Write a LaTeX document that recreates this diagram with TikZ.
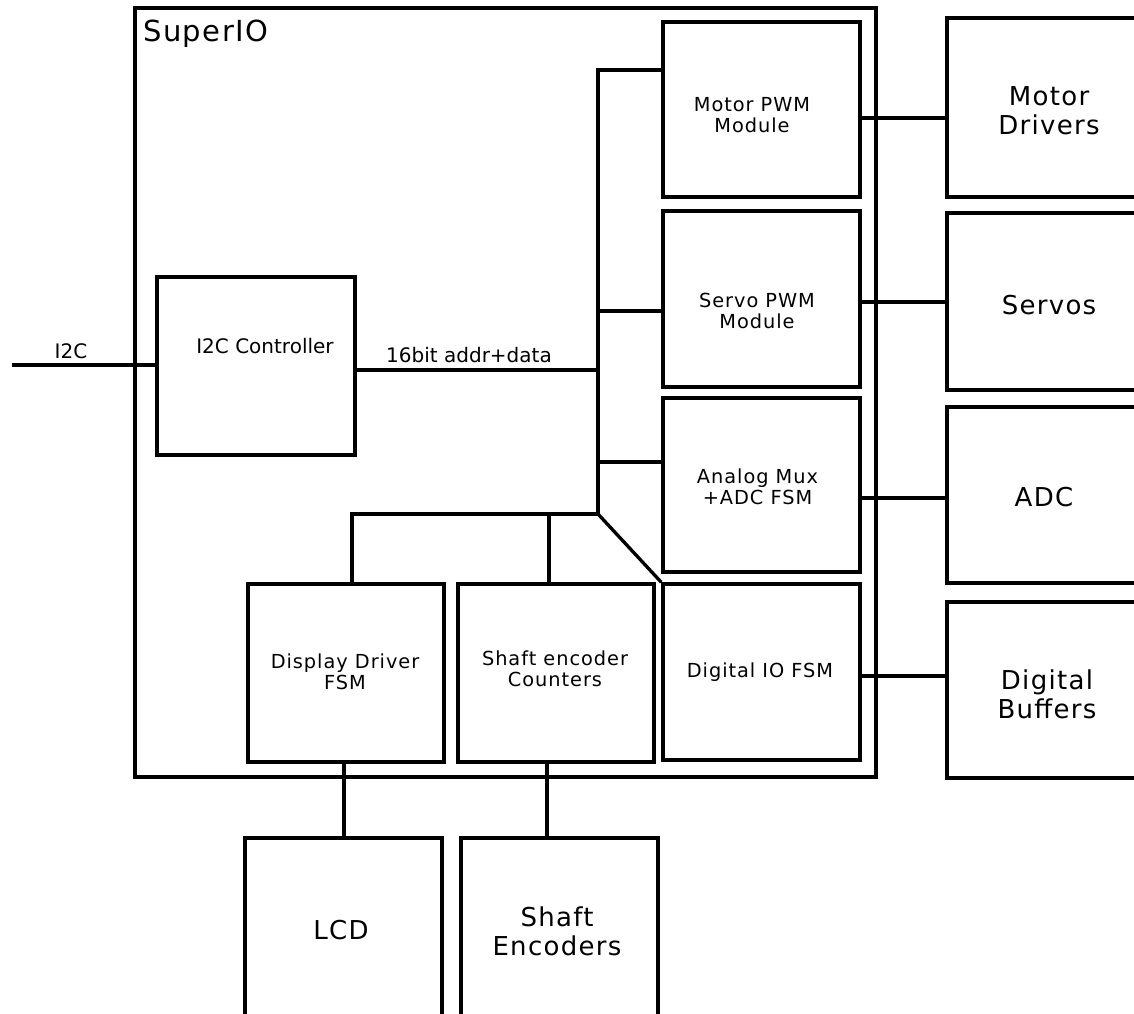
\documentclass[tikz,border=0pt]{standalone}
\usepackage{fontspec}
\setmainfont{DejaVu Sans}
\newfontfamily\dvls[LetterSpace=5]{DejaVu Sans}
\begin{document}
\begin{tikzpicture}[x=0.75pt,y=-0.75pt,
  box/.style={draw, line width=2.6pt, rectangle, inner sep=0pt},
  conn/.style={line width=2.5pt},
  modtxt/.style={font=\dvls\fontsize{14.5}{15.75}\selectfont, align=center, inner sep=0pt},
  bigtxt/.style={font=\dvls\fontsize{19.5}{21.75}\selectfont, align=center, inner sep=0pt},
  lbl/.style={font=\fontsize{15}{17}\selectfont, inner sep=0pt}]
\useasboundingbox (0,0) rectangle (1134,1013);
\clip (0,0) rectangle (1134,1013);

% SuperIO container
\node[box, minimum width=555.75pt, minimum height=576.75pt] (superio) at (505.5,392.5) {};
\node[anchor=base west, font=\dvls\fontsize{21.75}{24}\selectfont, inner sep=0pt] (superioT) at (143,42) {SuperIO};

% inner blocks
\node[box, minimum width=148.5pt, minimum height=133.5pt] (i2c) at (256,366) {};
\node[box, minimum width=147.75pt, minimum height=131.25pt] (motor) at (761.5,109.5) {};
\node[box, minimum width=147.75pt, minimum height=132pt] (servo) at (761.5,299) {};
\node[box, minimum width=147.75pt, minimum height=130.5pt] (analog) at (761.5,485) {};
\node[box, minimum width=147.75pt, minimum height=132pt] (digio) at (761.5,672) {};
\node[box, minimum width=147pt, minimum height=133.5pt] (disp) at (346,673) {};
\node[box, minimum width=147pt, minimum height=133.5pt] (shaftc) at (556,673) {};

% external blocks
\node[box, minimum width=150pt, minimum height=134.25pt] (mdrv) at (1047,107.5) {};
\node[box, minimum width=150pt, minimum height=132.75pt] (servos) at (1047,301.5) {};
\node[box, minimum width=150pt, minimum height=132pt] (adc) at (1047,495) {};
\node[box, minimum width=150pt, minimum height=132pt] (dbuf) at (1047,690) {};
\node[box, minimum width=147.75pt, minimum height=138pt] (lcd) at (343.5,930) {};
\node[box, minimum width=147.75pt, minimum height=138pt] (shenc) at (559.5,930) {};

% texts
\node[lbl] (i2cT) at (265,346) {I2C Controller};
\node[modtxt] (motorT) at (752,115) {Motor PWM\\Module};
\node[modtxt] (servoT) at (757,311) {Servo PWM\\Module};
\node[modtxt] (analogT) at (757.5,487) {Analog Mux\\+ADC FSM};
\node[modtxt] (digioT) at (760,672) {Digital IO FSM};
\node[modtxt] (dispT) at (345,672) {Display Driver\\FSM};
\node[modtxt] (shaftcT) at (555,669) {Shaft encoder\\Counters};
\node[bigtxt] (mdrvT) at (1049,111) {Motor\\Drivers};
\node[bigtxt] (servosT) at (1049,305) {Servos};
\node[bigtxt] (adcT) at (1044,497) {ADC};
\node[bigtxt] (dbufT) at (1047,694) {Digital\\Buffers};
\node[bigtxt] (lcdT) at (341,930) {LCD};
\node[bigtxt] (shencT) at (557,931) {Shaft\\Encoders};
\node[lbl] (i2cL) at (71,351) {I2C};
\node[lbl] (busL) at (469,355) {16bit addr+data};

% coordinates
\coordinate (i2cin) at (12,365);
\coordinate (bt) at (598,70);
\coordinate (bs) at (598,311);
\coordinate (bj) at (598,370);
\coordinate (ba) at (598,462);
\coordinate (bb) at (598,514);
\coordinate (hl) at (352,514);
\coordinate (hm) at (549,514);
\coordinate (ym) at (0,118);
\coordinate (ys) at (0,302);
\coordinate (ya) at (0,498);
\coordinate (yd) at (0,676);
\coordinate (xd) at (344,0);
\coordinate (xs) at (547,0);

% connectors
\draw[conn] (i2cin) -- (i2c.west |- i2cin);
\draw[conn] (i2c.east |- bj) -- (bj);
\draw[conn] (motor.west |- bt) -- (bt) -- (bb) -- (hl) -- (hl |- disp.north);
\draw[conn] (bs) -- (servo.west |- bs);
\draw[conn] (ba) -- (analog.west |- ba);
\draw[conn] (hm) -- (hm |- shaftc.north);
\draw[conn] (bb) -- (digio.north west);
\draw[conn] (motor.east |- ym) -- (mdrv.west |- ym);
\draw[conn] (servo.east |- ys) -- (servos.west |- ys);
\draw[conn] (analog.east |- ya) -- (adc.west |- ya);
\draw[conn] (digio.east |- yd) -- (dbuf.west |- yd);
\draw[conn] (xd |- disp.south) -- (xd |- lcd.north);
\draw[conn] (xs |- shaftc.south) -- (xs |- shenc.north);
\end{tikzpicture}
\end{document}
